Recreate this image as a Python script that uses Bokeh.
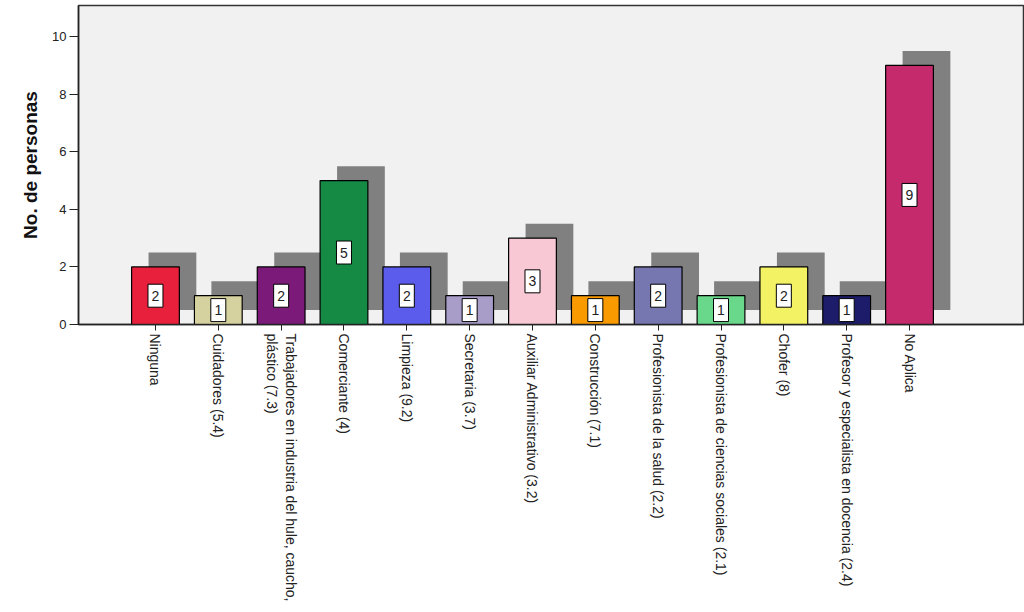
import math
import numpy as np
from bokeh.plotting import figure
from bokeh.models import Range1d, FixedTicker, ColumnDataSource
from bokeh.core.properties import value
from bokeh.embed import file_html
from bokeh.resources import INLINE

categories = [
    "Ninguna",
    "Cuidadores (5.4)",
    "Trabajadores en industria del hule, caucho,\nplástico (7.3)",
    "Comerciante (4)",
    "Limpieza (9.2)",
    "Secretaria (3.7)",
    "Auxiliar Administrativo (3.2)",
    "Construcción (7.1)",
    "Profesionista de la salud (2.2)",
    "Profesionista de ciencias sociales (2.1)",
    "Chofer  (8)",
    "Profesor y especialista en docencia (2.4)",
    "No Aplica",
]
counts = [2, 1, 2, 5, 2, 1, 3, 1, 2, 1, 2, 1, 9]
colors = ["#e8203c", "#d6d2a0", "#7c1a7a", "#148a44", "#5c5cec", "#a89cc8",
          "#f8c8d4", "#f89a00", "#7676b0", "#6ad88a", "#f2f264", "#1c1c6a", "#c42a6c"]
y_ticks = [0, 2, 4, 6, 8, 10]

x = np.arange(len(categories))
vals = np.array(counts, dtype=float)
src = ColumnDataSource(dict(
    x=x, top=vals, mid=vals / 2, color=colors,
    sx=x + 0.27, stop=vals + 0.5, sbot=np.full(len(x), 0.5),
    lbl=[str(c) for c in counts],
))

p = figure(width=1024, height=612, output_backend="svg", toolbar_location=None,
           x_range=Range1d(-1.225, 13.83), y_range=Range1d(0, 11.08),
           min_border_left=78, min_border_right=0, min_border_top=5,
           min_border_bottom=288)
p.background_fill_color = "#f1f1f1"
p.border_fill_color = "white"
p.outline_line_color = "#333333"
p.outline_line_width = 1.5
p.xgrid.visible = False
p.ygrid.visible = False

# shadows
p.vbar(x="sx", top="stop", bottom="sbot", width=0.76, source=src,
       fill_color="#808080", line_color=None)
# bars
p.vbar(x="x", top="top", bottom=0, width=0.76, source=src,
       fill_color="color", line_color="black", line_width=1.2)
# value boxes
p.rect(x="x", y="mid", width=15, height=23, width_units="screen", height_units="screen",
       source=src, fill_color="white", line_color="black", line_width=1)
p.text(x="x", y="mid", text="lbl", source=src, text_align="center",
       text_baseline="middle", text_font=value("Liberation Sans"),
       text_font_size="14px", text_color="#222222")

xa = p.xaxis[0]
xa.ticker = FixedTicker(ticks=list(x))
xa.major_label_overrides = {int(i): c for i, c in zip(x, categories)}
xa.major_label_orientation = -math.pi / 2
xa.major_label_text_font = "Liberation Sans"
xa.major_label_text_font_size = "14px"
xa.major_label_text_color = "#222222"
xa.major_label_standoff = 3
xa.axis_line_color = "#222222"
xa.axis_line_width = 1.5
xa.major_tick_out = 6
xa.major_tick_in = 0
xa.major_tick_line_color = "#222222"
xa.minor_tick_line_color = None

ya = p.yaxis[0]
ya.ticker = FixedTicker(ticks=y_ticks)
ya.axis_label = "No. de personas"
ya.axis_label_text_font = "Liberation Sans"
ya.axis_label_text_font_style = "bold"
ya.axis_label_text_font_size = "19px"
ya.axis_label_text_color = "#111111"
ya.axis_label_standoff = 8
ya.major_label_text_font = "Liberation Sans"
ya.major_label_text_font_size = "13px"
ya.major_label_text_color = "#222222"
ya.major_label_standoff = 3
ya.axis_line_color = "#222222"
ya.axis_line_width = 1.5
ya.major_tick_out = 9
ya.major_tick_in = 0
ya.major_tick_line_color = "#222222"
ya.minor_tick_line_color = None

open("out.html", "w").write(file_html(p, INLINE))
